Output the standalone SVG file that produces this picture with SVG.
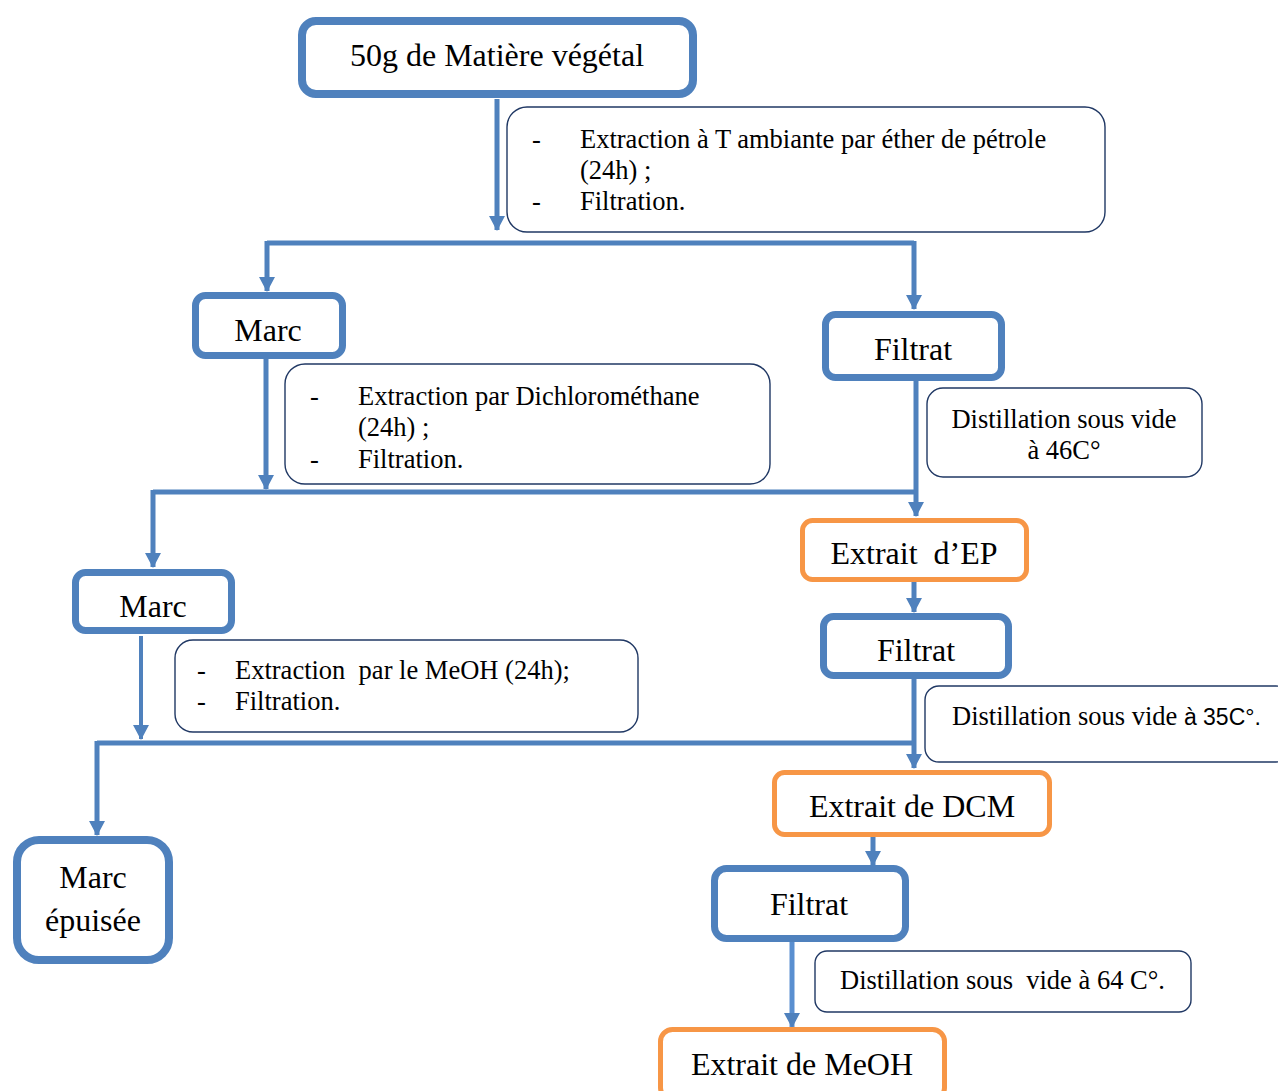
<svg xmlns="http://www.w3.org/2000/svg" width="1278" height="1091" viewBox="0 0 1278 1091">
<style>
.node{fill:#fff;stroke:#4F81BD;stroke-width:7}
.ext{fill:#fff;stroke:#F79646;stroke-width:5}
.note{fill:#fff;stroke:#203864;stroke-width:1.4}
.t{font-family:"Liberation Serif","Times New Roman",serif;font-size:32px;fill:#000;text-anchor:middle}
.n{font-family:"Liberation Serif","Times New Roman",serif;font-size:26.5px;fill:#000}
.c{fill:none;stroke:#4F81BD;stroke-width:5}
</style>
<defs>
<marker id="ah" markerUnits="userSpaceOnUse" markerWidth="16" markerHeight="16" refX="14" refY="8" orient="auto">
<path d="M0,0 L15,8 L0,16 z" fill="#4F81BD"/>
</marker>
</defs>
<g id="connectors">
<path class="c" d="M497,99 V230" marker-end="url(#ah)"/>
<path class="c" d="M267,243 H914"/>
<path class="c" d="M267,241 V291" marker-end="url(#ah)"/>
<path class="c" d="M914,241 V309" marker-end="url(#ah)"/>
<path class="c" d="M266,358 V489" marker-end="url(#ah)"/>
<path class="c" d="M153,492 H916"/>
<path class="c" d="M153,490 V567" marker-end="url(#ah)"/>
<path class="c" d="M916,381 V516" marker-end="url(#ah)"/>
<path class="c" d="M914,582 V612" marker-end="url(#ah)"/>
<path class="c" d="M141,636 V739" marker-end="url(#ah)" style="stroke-width:4"/>
<path class="c" d="M97,743 H914"/>
<path class="c" d="M97,741 V835" marker-end="url(#ah)"/>
<path class="c" d="M914,678 V768" marker-end="url(#ah)"/>
<path class="c" d="M873,837 V865" marker-end="url(#ah)"/>
<path class="c" d="M792,941 V1027" marker-end="url(#ah)" style="stroke:#5A8FD0"/>
</g>
<g id="n-top"><rect class="node" x="302" y="21" width="391" height="73" rx="14" style="stroke-width:8"/><text class="t" x="497" y="66">50g de Matière végétal</text></g>
<g id="note1"><rect class="note" x="507" y="107" width="598" height="125" rx="20"/>
<text class="n" x="532" y="148">-</text><text class="n" x="580" y="148">Extraction à T ambiante par éther de pétrole</text>
<text class="n" x="580" y="179">(24h) ;</text>
<text class="n" x="532" y="210">-</text><text class="n" x="580" y="210">Filtration.</text></g>
<g id="n-marc1"><rect class="node" x="195.5" y="295.5" width="147" height="60" rx="10"/><text class="t" x="268" y="341">Marc</text></g>
<g id="n-filtrat1"><rect class="node" x="825.5" y="314.5" width="176" height="63" rx="10"/><text class="t" x="913" y="360">Filtrat</text></g>
<g id="note2"><rect class="note" x="285" y="364" width="485" height="120" rx="20"/>
<text class="n" x="310" y="405">-</text><text class="n" x="358" y="405">Extraction par Dichlorométhane</text>
<text class="n" x="358" y="436">(24h) ;</text>
<text class="n" x="310" y="468">-</text><text class="n" x="358" y="468">Filtration.</text></g>
<g id="note46"><rect class="note" x="927" y="388" width="275" height="89" rx="16"/>
<text class="n" x="1064" y="428" text-anchor="middle">Distillation sous vide</text>
<text class="n" x="1064" y="459" text-anchor="middle">à 46C°</text></g>
<g id="n-ep"><rect class="ext" x="802.5" y="520.5" width="224" height="59" rx="10"/><text class="t" x="914" y="564" style="white-space:pre">Extrait  d’EP</text></g>
<g id="n-filtrat2"><rect class="node" x="823.5" y="616.5" width="185" height="59" rx="10"/><text class="t" x="916" y="661">Filtrat</text></g>
<g id="n-marc2"><rect class="node" x="75.5" y="572.5" width="156" height="58" rx="10"/><text class="t" x="153" y="617">Marc</text></g>
<g id="note3"><rect class="note" x="175" y="640" width="463" height="92" rx="18"/>
<text class="n" x="197" y="679">-</text><text class="n" x="235" y="679" style="white-space:pre">Extraction  par le MeOH (24h);</text>
<text class="n" x="197" y="710">-</text><text class="n" x="235" y="710">Filtration.</text></g>
<g id="note35"><rect class="note" x="925" y="686" width="365" height="76" rx="14"/>
<text class="n" x="952" y="725">Distillation sous vide <tspan style="font-family:'Liberation Sans',Arial,sans-serif;font-size:23px">à 35C°.</tspan></text></g>
<g id="n-dcm"><rect class="ext" x="774.5" y="772.5" width="275" height="62" rx="10"/><text class="t" x="912" y="817">Extrait de DCM</text></g>
<g id="n-epuisee"><rect class="node" x="17" y="840" width="152" height="120" rx="22" style="stroke-width:8"/><text class="t" x="93" y="888">Marc</text><text class="t" x="93" y="931">épuisée</text></g>
<g id="n-filtrat3"><rect class="node" x="714.5" y="868.5" width="191" height="70" rx="12"/><text class="t" x="809" y="915">Filtrat</text></g>
<g id="note64"><rect class="note" x="815" y="951" width="376" height="61" rx="12"/>
<text class="n" x="840" y="989" style="white-space:pre">Distillation sous  vide à 64 C°.</text></g>
<g id="n-meoh"><rect class="ext" x="660.5" y="1029.5" width="284" height="70" rx="12"/><text class="t" x="802" y="1075">Extrait de MeOH</text></g>
</svg>
